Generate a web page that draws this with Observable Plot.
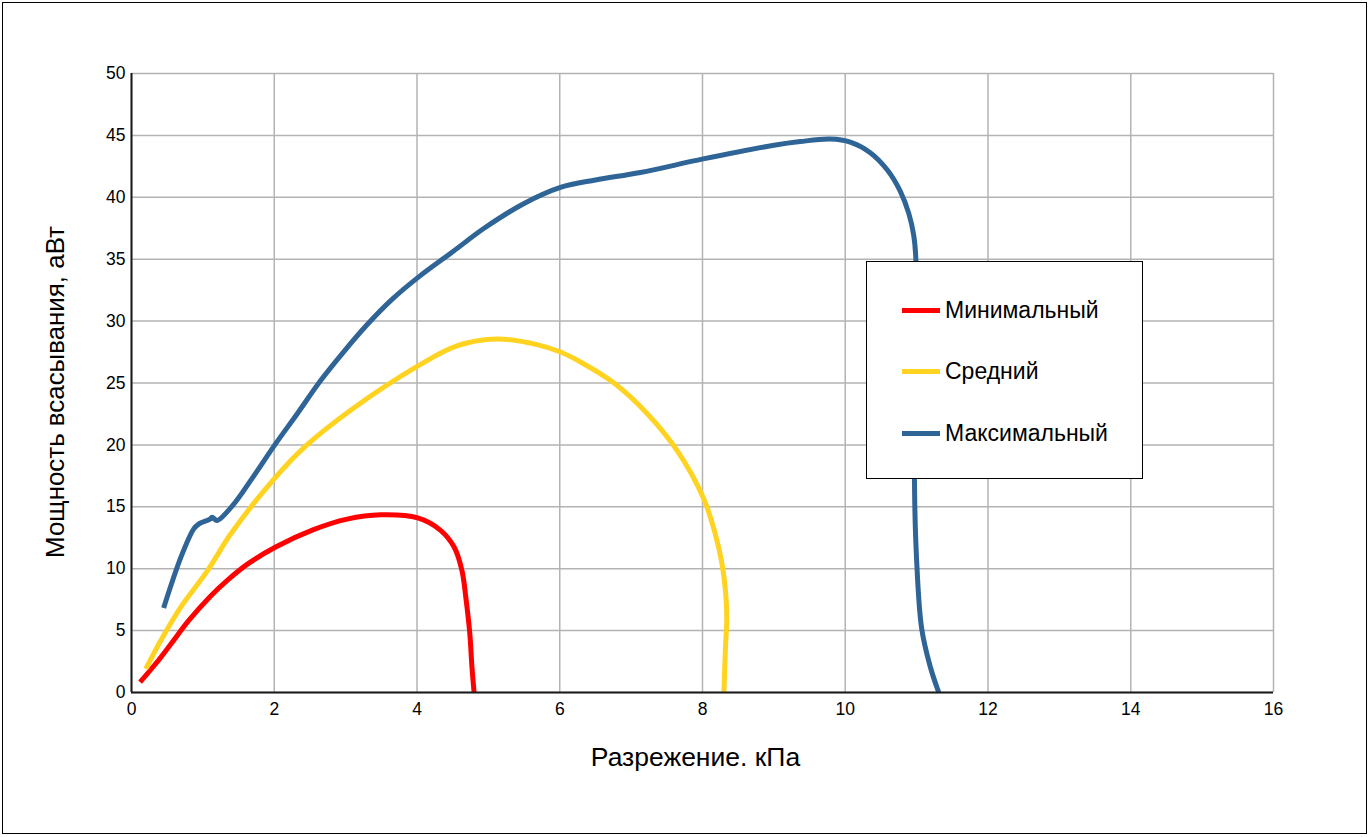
<!DOCTYPE html>
<html>
<head>
<meta charset="utf-8">
<script src="https://cdn.jsdelivr.net/npm/d3@7"></script>
<script src="https://cdn.jsdelivr.net/npm/@observablehq/plot@0.6"></script>
<style>
  html, body { margin: 0; padding: 0; background: #fff; }
  #wrap { position: relative; width: 1370px; height: 837px; overflow: hidden; font-family: "Liberation Sans", Arial, sans-serif; }
  #frame { position: absolute; left: 2px; top: 2px; width: 1365px; height: 832px; border: 1.5px solid #000; box-sizing: border-box; pointer-events: none; }
  #legend { position: absolute; left: 866px; top: 261px; width: 277px; height: 218px; background: #fff; border: 1.5px solid #000; box-sizing: border-box; }
  .row { position: absolute; left: 35px; height: 26px; display: flex; align-items: center; font-size: 23px; color: #000; }
  .sw { width: 38px; height: 5px; margin-right: 5px; }
</style>
</head>
<body>
<div id="wrap"></div>
<script>
// Series names and colours
const seriesNames = ["Минимальный", "Средний", "Максимальный"];
const seriesColors = ["#ff0000", "#ffd320", "#2f6497"];

// Минимальный
const minX = [0.12, 0.35, 0.55, 0.8, 1.11, 1.35, 1.62, 2.02, 2.55, 3.02, 3.49, 4.01, 4.33, 4.52, 4.63, 4.69, 4.74, 4.77, 4.80];
const minY = [0.83, 2.4, 3.9, 5.8, 7.8, 9.1, 10.35, 11.75, 13.15, 14.0, 14.35, 14.1, 13.1, 11.75, 9.85, 7.4, 4.75, 2.05, 0];

// Средний
const midX = [0.2, 0.41, 0.69, 1.06, 1.39, 1.99, 2.42, 3.07, 4.02, 4.56, 5.12, 5.68, 6.01, 6.29, 6.76, 7.23, 7.65, 8.01, 8.17, 8.27, 8.325, 8.34, 8.32, 8.30];
const midY = [1.9, 4.2, 6.9, 9.8, 12.8, 17.2, 19.8, 22.8, 26.4, 28.0, 28.55, 28.1, 27.5, 26.7, 25.0, 22.5, 19.5, 15.75, 13.0, 10.5, 8.0, 6.0, 3.4, 0];

// Максимальный
const maxX = [0.45, 0.69, 0.87, 0.94, 1.1, 1.13, 1.2, 1.43, 1.69, 2.02, 2.32, 2.65, 2.97, 3.30, 3.65, 4.02, 4.5, 4.94, 5.5, 6.01, 6.5, 7.13, 8.01, 9.0, 9.37, 9.79, 10.07, 10.35, 10.59, 10.77, 10.89, 10.96, 10.99, 10.98, 10.97, 11.0, 11.07, 11.19, 11.31];
const maxY = [6.83, 10.9, 13.2, 13.6, 14.0, 14.15, 13.9, 15.2, 17.3, 20.1, 22.5, 25.2, 27.5, 29.7, 31.75, 33.55, 35.6, 37.5, 39.5, 40.8, 41.4, 42.0, 43.1, 44.2, 44.5, 44.7, 44.45, 43.6, 42.2, 40.5, 38.7, 36.9, 34.9, 25, 16.9, 10.7, 5.2, 2.1, 0];

// Axis ticks and titles
const xTicks = [0, 2, 4, 6, 8, 10, 12, 14, 16];
const yTicks = [0, 5, 10, 15, 20, 25, 30, 35, 40, 45, 50];
const xTitle = "Разрежение. кПа";
const yTitle = "Мощность всасывания, аВт";

const seriesXY = [[minX, minY], [midX, midY], [maxX, maxY]];
const rows = seriesXY.flatMap(([xs, ys], s) => xs.map((x, i) => ({series: seriesNames[s], x, y: ys[i]})));

const chart = Plot.plot({
  width: 1370,
  height: 837,
  marginLeft: 131,
  marginRight: 97,
  marginTop: 73,
  marginBottom: 145,
  style: {fontFamily: "'Liberation Sans', Arial, sans-serif", background: "transparent", color: "#000"},
  x: {domain: [0, 16], ticks: xTicks},
  y: {domain: [0, 50], ticks: yTicks},
  color: {domain: seriesNames, range: seriesColors},
  marks: [
    Plot.gridX(xTicks, {stroke: "#b3b3b3", strokeOpacity: 1, strokeWidth: 1.5}),
    Plot.gridY(yTicks, {stroke: "#b3b3b3", strokeOpacity: 1, strokeWidth: 1.5}),
    Plot.line(rows, {x: "x", y: "y", z: "series", stroke: "series", strokeWidth: 5, curve: "catmull-rom", strokeLinejoin: "round", strokeLinecap: "butt"}),
    Plot.ruleY([0], {stroke: "#1a1a1a", strokeWidth: 2}),
    Plot.ruleX([0], {stroke: "#1a1a1a", strokeWidth: 2}),
    Plot.axisX(xTicks, {tickSize: 0, tickPadding: 10, fontSize: 17.5, label: null}),
    Plot.axisY(yTicks, {tickSize: 0, tickPadding: 6, fontSize: 17.5, label: null}),
    Plot.text([xTitle], {frameAnchor: "bottom", dx: -7, dy: 65, fontSize: 26.5, lineAnchor: "middle"}),
    Plot.text([yTitle], {frameAnchor: "left", dx: -76, dy: 9, rotate: -90, fontSize: 25.9, textAnchor: "middle", lineAnchor: "middle"})
  ]
});

const wrap = document.getElementById("wrap");
wrap.appendChild(chart);

const frame = document.createElement("div");
frame.id = "frame";
wrap.appendChild(frame);

const legend = document.createElement("div");
legend.id = "legend";
const rowTops = [35, 96, 158];
seriesNames.forEach((name, i) => {
  const r = document.createElement("div");
  r.className = "row";
  r.style.top = rowTops[i] + "px";
  const sw = document.createElement("div");
  sw.className = "sw";
  sw.style.background = seriesColors[i];
  const t = document.createElement("span");
  t.textContent = name;
  r.appendChild(sw);
  r.appendChild(t);
  legend.appendChild(r);
});
wrap.appendChild(legend);
</script>
</body>
</html>
